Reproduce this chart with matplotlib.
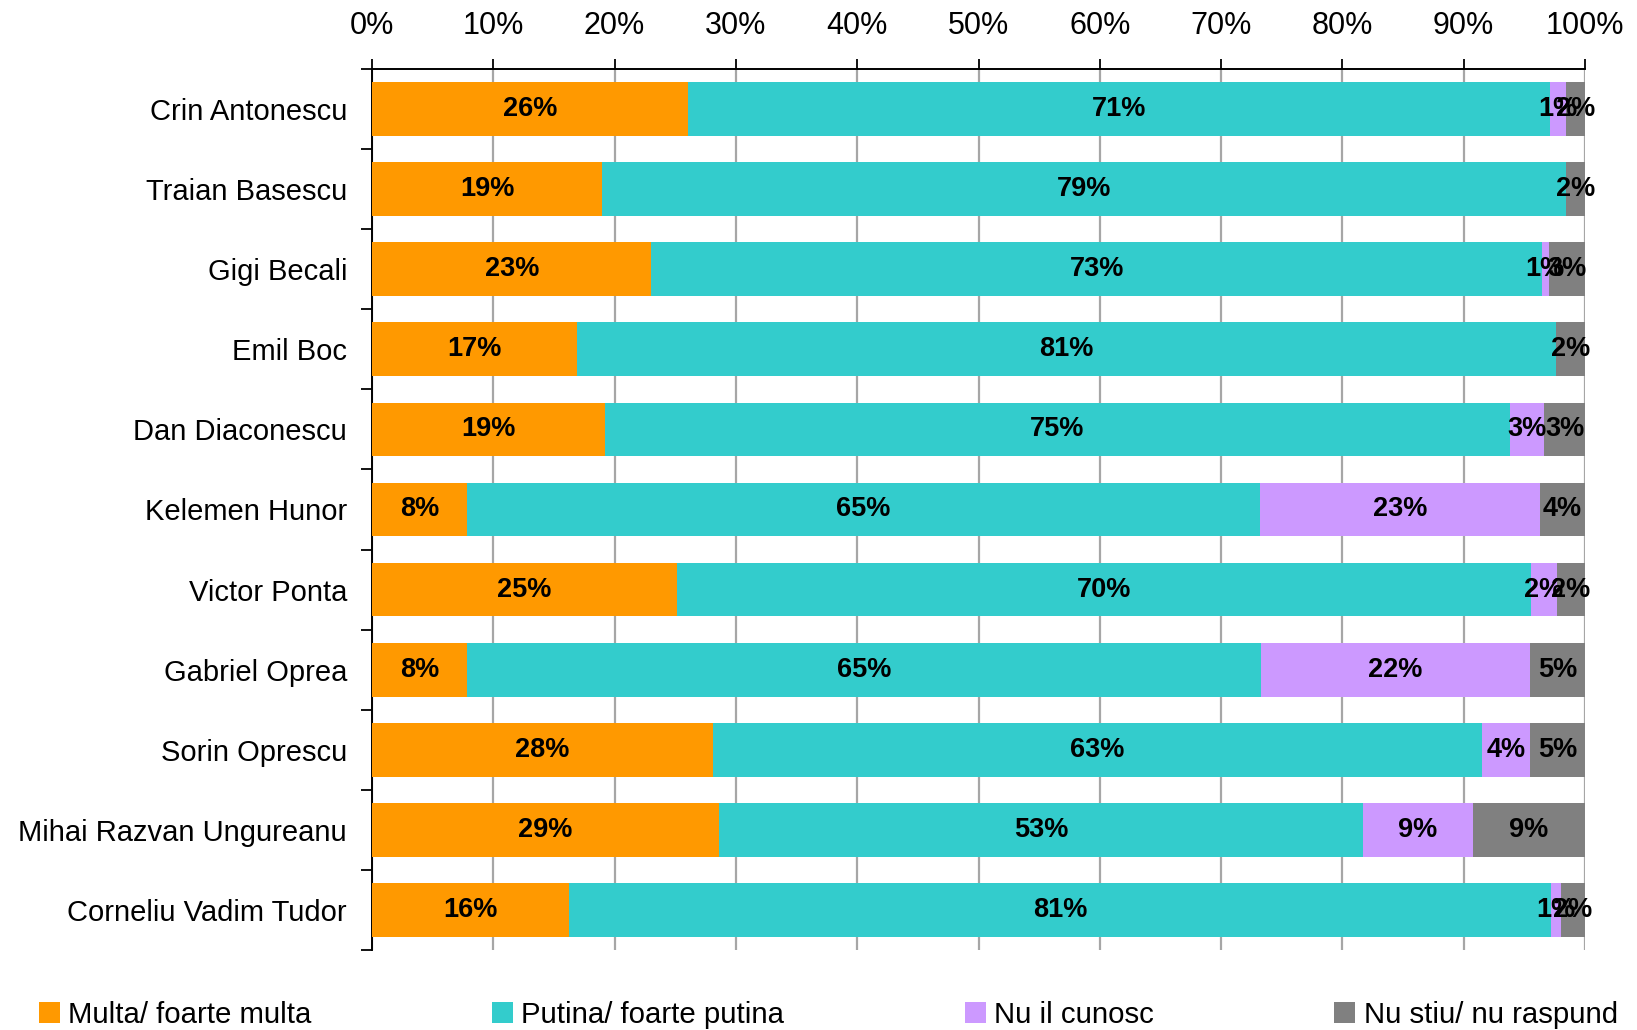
"""
plot.py - 100% stacked bar chart of trust levels for Romanian politicians.
"""
import matplotlib.pyplot as plt
from matplotlib.patches import Patch
from matplotlib.ticker import FixedLocator, PercentFormatter

plt.rcParams['font.family'] = ['Liberation Sans', 'DejaVu Sans']

names = [
    "Crin Antonescu", "Traian Basescu", "Gigi Becali", "Emil Boc",
    "Dan Diaconescu", "Kelemen Hunor", "Victor Ponta", "Gabriel Oprea",
    "Sorin Oprescu", "Mihai Razvan Ungureanu", "Corneliu Vadim Tudor",
]
multa = [26.05, 19.0, 23.04, 16.94, 19.17, 7.82, 25.15, 7.82, 28.1, 28.6, 16.25]
putina = [71.05, 79.45, 73.41, 80.66, 74.63, 65.35, 70.4, 65.48, 63.39, 53.1, 80.95]
nu_cunosc = [1.35, 0.0, 0.55, 0.0, 2.85, 23.13, 2.14, 22.15, 3.96, 9.07, 0.82]
nu_stiu = [1.55, 1.55, 3.0, 2.4, 3.35, 3.7, 2.31, 4.55, 4.55, 9.23, 1.98]

series = [
    ("Multa/ foarte multa", multa, "#FF9900"),
    ("Putina/ foarte putina", putina, "#33CCCC"),
    ("Nu il cunosc", nu_cunosc, "#CC99FF"),
    ("Nu stiu/ nu raspund", nu_stiu, "#808080"),
]

W, H = 1637, 1030
fig = plt.figure(figsize=(W / 100, H / 100), dpi=100)
ax = fig.add_axes([372 / W, 1 - 950 / H, (1585 - 372) / W, (950 - 69) / H])

ypos = list(range(len(names)))
left = [0.0] * len(names)
for label, vals, color in series:
    ax.barh(ypos, vals, left=left, height=0.67, color=color, label=label, zorder=3)
    for i, v in enumerate(vals):
        if v > 0:
            ax.text(left[i] + v / 2, i, f"{round(v)}%", ha="center", va="center",
                    fontsize=19.5, fontweight="bold", color="black", zorder=4)
    left = [l + v for l, v in zip(left, vals)]

ax.set_xlim(0, 100)
ax.set_ylim(len(names) - 0.5, -0.5)

ax.xaxis.tick_top()
ax.set_xticks(range(0, 101, 10))
ax.xaxis.set_major_formatter(PercentFormatter(decimals=0))
ax.tick_params(axis="x", which="major", direction="out", length=7.5, width=1.3,
               color="black", labelsize=22, pad=13)
ax.grid(axis="x", color="#A6A6A6", linewidth=1.6, zorder=0)

ax.set_yticks(ypos)
ax.set_yticklabels(names)
ax.yaxis.set_minor_locator(FixedLocator([i - 0.5 for i in range(len(names) + 1)]))
ax.tick_params(axis="y", which="major", length=0, labelsize=21, pad=18)
ax.tick_params(axis="y", which="minor", direction="out", length=8, width=1.3, color="black")

for side in ("right", "bottom"):
    ax.spines[side].set_visible(False)
for side in ("left", "top"):
    ax.spines[side].set_linewidth(1.4)
    ax.spines[side].set_color("black")

handles = [Patch(facecolor=c, edgecolor="none") for _, _, c in series]
fig.legend(handles, [s[0] for s in series], loc="center left",
           bbox_to_anchor=(39 / W, 1 - 1015 / H), ncol=4, frameon=False,
           fontsize=21.2, handlelength=0.72, handleheight=0.72, handletextpad=0.28,
           columnspacing=6.12, borderpad=0, borderaxespad=0)

fig.savefig("out.png", dpi=100)
plt.close(fig)
